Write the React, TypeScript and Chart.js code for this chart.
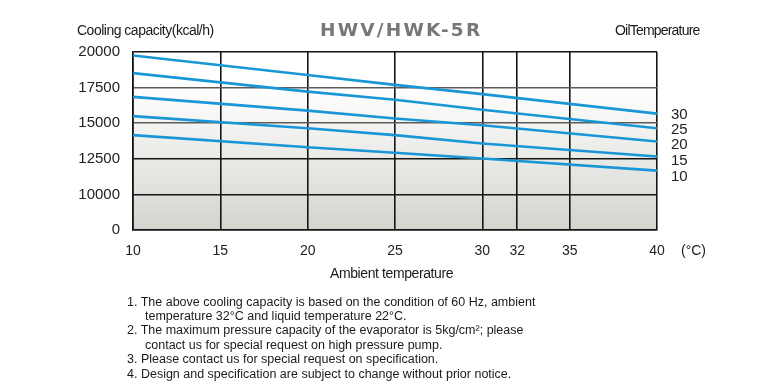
import React, { useEffect, useRef } from "react";
import { Chart, registerables, LinearScale } from "chart.js";

Chart.register(...registerables);

const chartTitle = "HWV/HWK-5R";
const yAxisTitle = "Cooling capacity(kcal/h)";
const xAxisTitle = "Ambient temperature";
const seriesTitle = "OilTemperature";
const unitLabel = "(°C)";

const ambientTemps = [10, 20, 25, 30, 40];
const xTicks = [10, 15, 20, 25, 30, 32, 35, 40];
const yTicks = [0, 10000, 12500, 15000, 17500, 20000];

const oilTemps = ["30", "25", "20", "15", "10"];
const capacity30 = [19760, 18380, 17690, 17040, 15670];
const capacity25 = [18520, 17220, 16650, 15950, 14650];
const capacity20 = [16850, 15880, 15330, 14860, 13710];
const capacity15 = [15500, 14650, 14160, 13570, 12660];
const capacity10 = [14160, 13310, 12920, 12520, 11670];
const seriesValues = [capacity30, capacity25, capacity20, capacity15, capacity10];

const notes = [
  ["1. The above cooling capacity is based on the condition of 60 Hz, ambient", "temperature 32°C and liquid temperature 22°C."],
  ["2. The maximum pressure capacity of the evaporator is 5kg/cm²; please", "contact us for special request on high pressure pump."],
  ["3. Please contact us for special request on specification."],
  ["4. Design and specification are subject to change without prior notice."],
];

// Axis whose labelled ticks are evenly spaced (0, 10000, 12500, ... 20000)
class SteppedScale extends LinearScale {
  static id = "stepped";
  static defaults = LinearScale.defaults;
  determineDataLimits() {
    this.min = yTicks[0];
    this.max = yTicks[yTicks.length - 1];
  }
  buildTicks() {
    this.min = yTicks[0];
    this.max = yTicks[yTicks.length - 1];
    return yTicks.map((v) => ({ value: v }));
  }
  getPixelForValue(value: number) {
    if (value === null || value === undefined || isNaN(value)) return NaN;
    const t = yTicks;
    const n = t.length - 1;
    let pos = n + (value - t[n]) / (t[n] - t[n - 1]);
    if (value <= t[0]) pos = (value - t[0]) / (t[1] - t[0]);
    else {
      for (let i = 0; i < n; i++) {
        if (value <= t[i + 1]) {
          pos = i + (value - t[i]) / (t[i + 1] - t[i]);
          break;
        }
      }
    }
    return this.getPixelForDecimal(pos / n);
  }
  getValueForPixel(pixel: number) {
    const t = yTicks;
    const n = t.length - 1;
    const pos = this.getDecimalForPixel(pixel) * n;
    const i = Math.max(0, Math.min(n - 1, Math.floor(pos)));
    return t[i] + (pos - i) * (t[i + 1] - t[i]);
  }
}
Chart.register(SteppedScale as any);

const backgroundPlugin = {
  id: "plotBackground",
  beforeDraw(chart: any) {
    const { ctx, chartArea } = chart;
    const { left, top, right, bottom } = chartArea;
    const g = ctx.createLinearGradient(0, top, 0, bottom);
    g.addColorStop(0, "#ffffff");
    g.addColorStop(0.2, "#ffffff");
    g.addColorStop(0.45, "#f1f1ef");
    g.addColorStop(1, "#d4d4cf");
    ctx.save();
    ctx.fillStyle = g;
    ctx.fillRect(left, top, right - left, bottom - top);
    ctx.restore();
  },
};

const FONT = "'Liberation Sans', Arial, sans-serif";

export default function App() {
  const canvasRef = useRef<HTMLCanvasElement>(null);

  useEffect(() => {
    if (!canvasRef.current) return;
    const chart = new Chart(canvasRef.current, {
      type: "line",
      data: {
        datasets: seriesValues.map((vals, i) => ({
          label: oilTemps[i],
          data: ambientTemps.map((x, j) => ({ x, y: vals[j] })),
          borderColor: "#1896d6",
          borderWidth: 2.6,
          pointRadius: 0,
          tension: 0,
          fill: false,
        })),
      },
      options: {
        animation: false,
        responsive: false,
        events: [],
        layout: { padding: { left: 0, right: 123, top: 52, bottom: 116 } },
        plugins: { legend: { display: false }, tooltip: { enabled: false }, title: { display: false } },
        scales: {
          x: {
            type: "linear",
            min: 10,
            max: 40,
            afterBuildTicks: (scale: any) => {
              scale.ticks = xTicks.map((v) => ({ value: v }));
            },
            afterFit: (scale: any) => {
              scale.height = 40;
            },
            grid: { color: "#151515", lineWidth: 1.6, drawTicks: false },
            border: { color: "#151515", width: 1.6 },
            ticks: {
              padding: 13,
              color: "#222",
              font: { family: FONT, size: 14 },
              maxRotation: 0,
              autoSkip: false,
              callback: (v: any) => String(v),
            },
          },
          y: {
            type: "stepped" as any,
            afterFit: (scale: any) => {
              scale.width = 133;
            },
            grid: {
              color: (ctx: any) => {
                const v = ctx.tick && ctx.tick.value;
                return v === 17500 || v === 15000 ? "#5e5a58" : "#151515";
              },
              lineWidth: 1.6,
              drawTicks: false,
            },
            border: { color: "#151515", width: 1.6 },
            ticks: {
              padding: 13,
              color: "#222",
              font: { family: FONT, size: 15 },
              autoSkip: false,
              callback: (v: any) => String(v),
            },
          },
        },
      } as any,
      plugins: [backgroundPlugin],
    });
    return () => chart.destroy();
  }, []);

  const labelTops = [114.3, 129.3, 144.3, 160, 176];

  return (
    <div style={{ position: "fixed", left: 0, top: 0, width: 780, height: 386, background: "#fff", overflow: "hidden", fontFamily: FONT, color: "#1a1a1a" }}>
      <canvas ref={canvasRef} width={780} height={386} style={{ position: "absolute", left: 0, top: 0 }} />
      <div style={{ position: "absolute", left: 320, top: 20, fontFamily: "'DejaVu Sans', sans-serif", fontWeight: "bold", fontSize: 18.5, lineHeight: "20px", letterSpacing: 2.2, color: "#777777", whiteSpace: "nowrap" }}>{chartTitle}</div>
      <div style={{ position: "absolute", left: 77, top: 22, fontSize: 14, lineHeight: "16px", letterSpacing: -0.5, whiteSpace: "nowrap" }}>{yAxisTitle}</div>
      <div style={{ position: "absolute", left: 615, top: 22, fontSize: 14, lineHeight: "16px", letterSpacing: -0.8, whiteSpace: "nowrap" }}>{seriesTitle}</div>
      <div style={{ position: "absolute", left: 330, top: 265, fontSize: 14, lineHeight: "16px", letterSpacing: -0.4, whiteSpace: "nowrap" }}>{xAxisTitle}</div>
      <div style={{ position: "absolute", left: 681, top: 242, fontSize: 14, lineHeight: "16px", color: "#222", whiteSpace: "nowrap" }}>{unitLabel}</div>
      {oilTemps.map((t, i) => (
        <div key={t} style={{ position: "absolute", left: 671, top: labelTops[i] - 8, fontSize: 15, lineHeight: "16px", color: "#222" }}>{t}</div>
      ))}
      <div style={{ position: "absolute", left: 127, top: 294.5, fontSize: 12.5, lineHeight: "14.4px", color: "#1a1a1a", whiteSpace: "nowrap" }}>
        {notes.map((lines, i) =>
          lines.map((line, j) => (
            <div key={i + "-" + j} style={{ paddingLeft: j > 0 ? 18 : 0 }}>{line}</div>
          ))
        )}
      </div>
    </div>
  );
}
